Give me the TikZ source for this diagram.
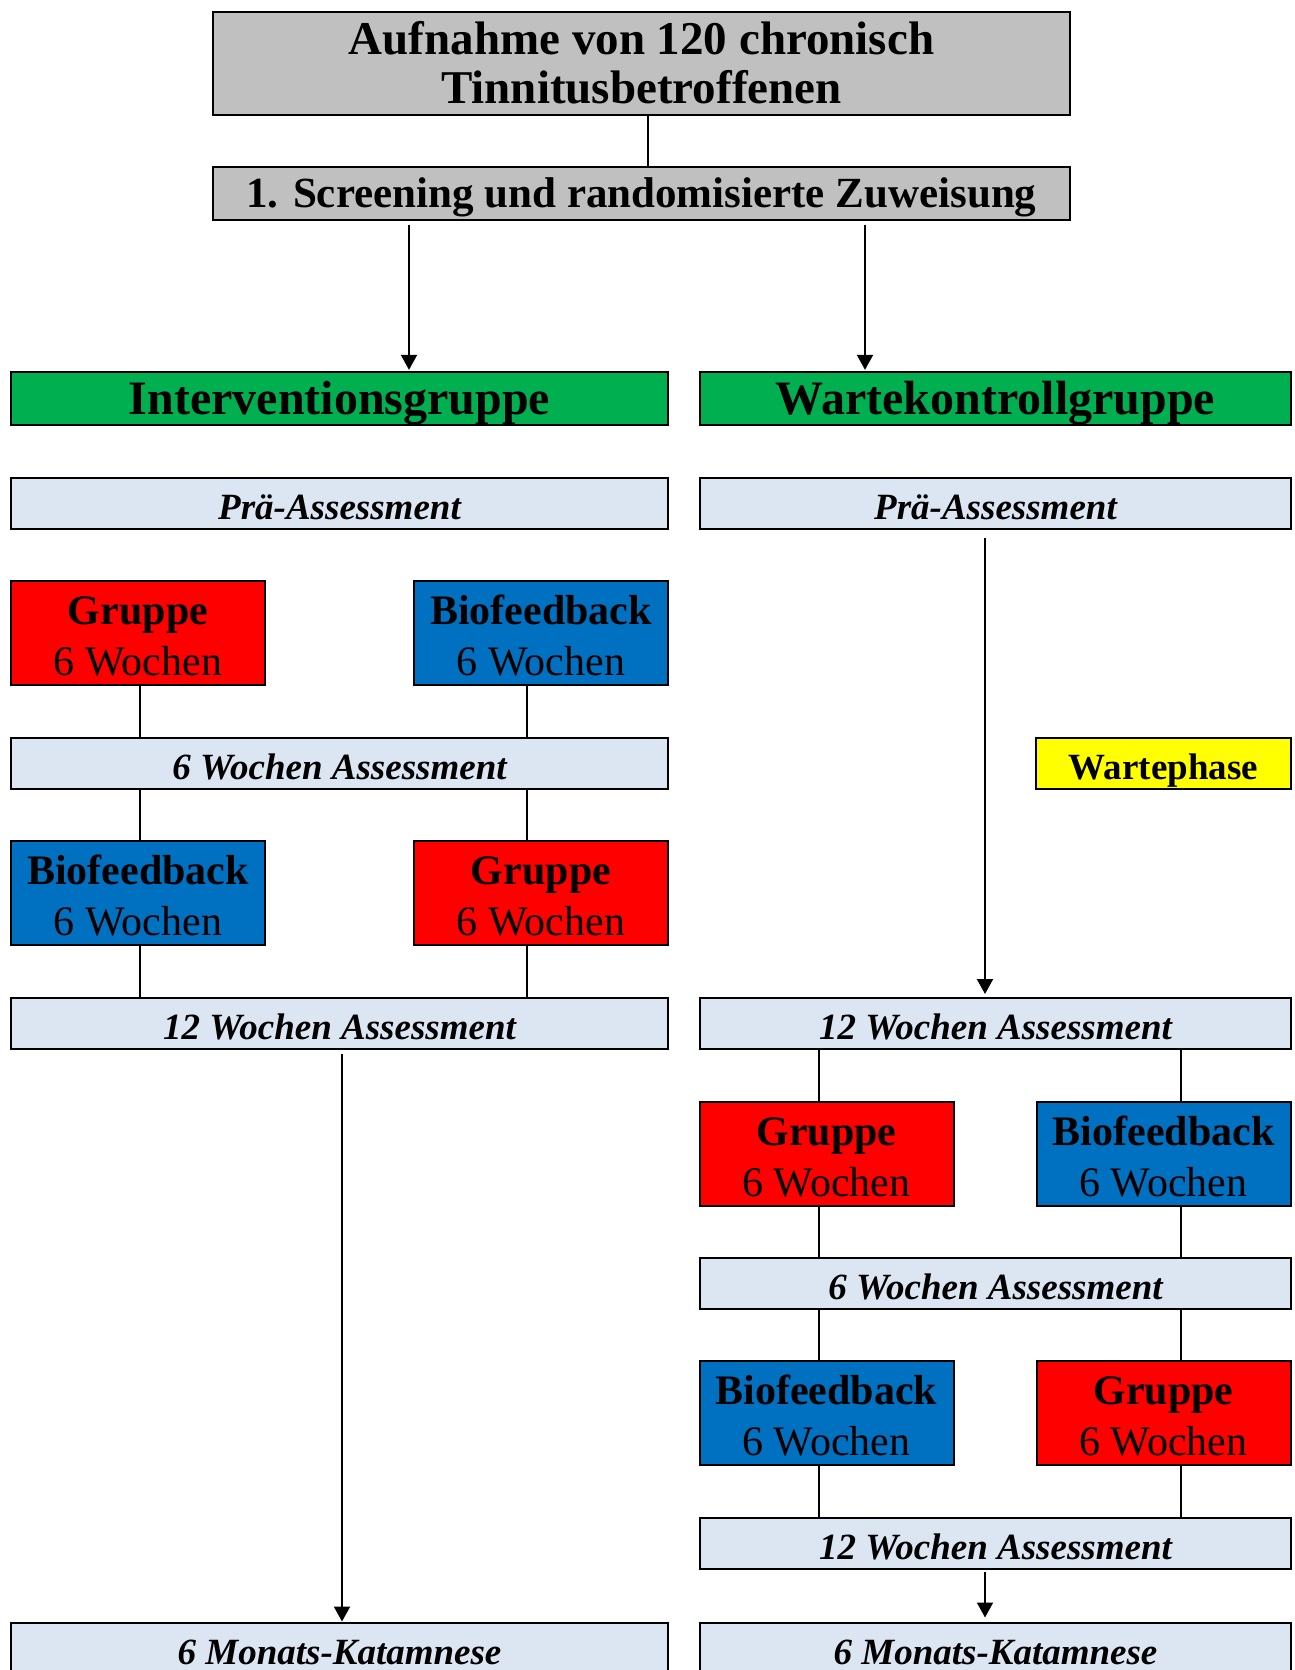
\documentclass[tikz,border=0pt]{standalone}
\usepackage{fontspec}
\setmainfont{Liberation Serif}
\usetikzlibrary{arrows.meta,calc}
\definecolor{cgray}{HTML}{C0C0C0}
\definecolor{cgreen}{HTML}{00B050}
\definecolor{cpale}{HTML}{DCE6F2}
\definecolor{cred}{HTML}{FF0000}
\definecolor{cblue}{HTML}{0070C0}
\definecolor{cyellow}{HTML}{FFFF00}
\newcommand{\upst}{\rule{0pt}{0.89em}}
\newcommand{\upsp}{\rule{0pt}{1.04em}}
\newcommand{\upsa}{\rule{0pt}{1.11em}}
\newcommand{\dnst}{\rule[-0.22em]{0pt}{0.22em}}
\begin{document}
\begin{tikzpicture}[x=1pt,y=-1pt,
  box/.style={draw=black, line width=2pt, inner sep=0pt, outer sep=0pt, align=center, text=black},
  headbox/.style={box, fill=cgray, minimum width=857pt},
  grpbox/.style={box, fill=cgreen, minimum height=53pt, font=\fontsize{48}{50}\selectfont\bfseries},
  assess/.style={box, fill=cpale, minimum height=51pt, font=\fontsize{37}{44}\selectfont\bfseries\itshape},
  phase/.style={box, minimum width=254pt, minimum height=104pt, font=\fontsize{42}{51}\selectfont},
  redbox/.style={phase, fill=cred},
  bluebox/.style={phase, fill=cblue},
  waitbox/.style={box, fill=cyellow, minimum width=255pt, minimum height=51pt, font=\fontsize{37}{44}\selectfont\bfseries},
  link/.style={line width=2pt},
  arr/.style={line width=2pt, -{Triangle[length=15pt,width=16pt]}}
]
\useasboundingbox (0,0) rectangle (1294,1670);
\fill[white] (0,0) rectangle (1294,1670);

% column coordinates
\coordinate (xa) at (648,0);
\coordinate (xb) at (409,0);
\coordinate (xc) at (865,0);
\coordinate (xl1) at (139.5,0);
\coordinate (xl2) at (527,0);
\coordinate (xr1) at (819,0);
\coordinate (xr2) at (1181,0);
\coordinate (xlm) at (342,0);
\coordinate (xrm) at (985,0);

% top
\node[headbox, minimum height=103pt, font=\fontsize{47}{49}\selectfont\bfseries] (top) at (641.5,63.5)
  {\upst Aufnahme von 120 chronisch\\Tinnitusbetroffenen\dnst};
\node[headbox, minimum height=53pt, font=\fontsize{43}{50}\selectfont\bfseries] (screen) at (641.5,193)
  {\upst 1. Screening und randomisierte Zuweisung\dnst};

% group headers
\node[grpbox, minimum width=657pt] (ig) at (339.5,398.5) {\upst Interventionsgruppe\dnst};
\node[grpbox, minimum width=591pt] (wk) at (995.5,398.5) {\upst Wartekontrollgruppe\dnst};

% left column
\node[assess, minimum width=657pt] (preL) at (339.5,503.5) {\upsa Prä-Assessment\dnst};
\node[redbox] (grL1) at (138,633) {\upsp\textbf{Gruppe}\\6 Wochen\dnst};
\node[bluebox] (bioL1) at (541,633) {\upsp\textbf{Biofeedback}\\6 Wochen\dnst};
\node[assess, minimum width=657pt] (sixL) at (339.5,763.5) {\upsa 6 Wochen Assessment\dnst};
\node[bluebox] (bioL2) at (138,893) {\upsp\textbf{Biofeedback}\\6 Wochen\dnst};
\node[redbox] (grL2) at (541,893) {\upsp\textbf{Gruppe}\\6 Wochen\dnst};
\node[assess, minimum width=657pt] (twL) at (339.5,1023.5) {\upsa 12 Wochen Assessment\dnst};
\node[assess, minimum width=657pt] (katL) at (339.5,1648) {\upsa 6 Monats-Katamnese\dnst};

% right column
\node[assess, minimum width=591pt] (preR) at (995.5,503.5) {\upsa Prä-Assessment\dnst};
\node[waitbox] (wait) at (1163.5,763.5) {\upsa Wartephase\dnst};
\node[assess, minimum width=591pt] (twR) at (995.5,1023.5) {\upsa 12 Wochen Assessment\dnst};
\node[redbox] (grR1) at (826.5,1153.5) {\upsp\textbf{Gruppe}\\6 Wochen\dnst};
\node[bluebox] (bioR1) at (1163.5,1153.5) {\upsp\textbf{Biofeedback}\\6 Wochen\dnst};
\node[assess, minimum width=591pt] (sixR) at (995.5,1283.5) {\upsa 6 Wochen Assessment\dnst};
\node[bluebox] (bioR2) at (826.5,1413) {\upsp\textbf{Biofeedback}\\6 Wochen\dnst};
\node[redbox] (grR2) at (1163.5,1413) {\upsp\textbf{Gruppe}\\6 Wochen\dnst};
\node[assess, minimum width=591pt] (twR2) at (995.5,1543.5) {\upsa 12 Wochen Assessment\dnst};
\node[assess, minimum width=591pt] (katR) at (995.5,1648) {\upsa 6 Monats-Katamnese\dnst};

% connectors
\draw[link] (top.south -| xa) -- (screen.north -| xa);
\draw[arr, shorten <=5pt, shorten >=2pt] (screen.south -| xb) -- (ig.north -| xb);
\draw[arr, shorten <=5pt, shorten >=2pt] (screen.south -| xc) -- (wk.north -| xc);

\draw[link] (grL1.south -| xl1) -- (sixL.north -| xl1);
\draw[link] (bioL1.south -| xl2) -- (sixL.north -| xl2);
\draw[link] (sixL.south -| xl1) -- (bioL2.north -| xl1);
\draw[link] (sixL.south -| xl2) -- (grL2.north -| xl2);
\draw[link] (bioL2.south -| xl1) -- (twL.north -| xl1);
\draw[link] (grL2.south -| xl2) -- (twL.north -| xl2);
\draw[arr, shorten <=5pt, shorten >=1pt] (twL.south -| xlm) -- (katL.north -| xlm);

\draw[arr, shorten <=9pt, shorten >=4pt] (preR.south -| xrm) -- (twR.north -| xrm);
\draw[link] (twR.south -| xr1) -- (grR1.north -| xr1);
\draw[link] (twR.south -| xr2) -- (bioR1.north -| xr2);
\draw[link] (grR1.south -| xr1) -- (sixR.north -| xr1);
\draw[link] (bioR1.south -| xr2) -- (sixR.north -| xr2);
\draw[link] (sixR.south -| xr1) -- (bioR2.north -| xr1);
\draw[link] (sixR.south -| xr2) -- (grR2.north -| xr2);
\draw[link] (bioR2.south -| xr1) -- (twR2.north -| xr1);
\draw[link] (grR2.south -| xr2) -- (twR2.north -| xr2);
\draw[arr, shorten <=3pt, shorten >=5pt] (twR2.south -| xrm) -- (katR.north -| xrm);
\end{tikzpicture}
\end{document}
